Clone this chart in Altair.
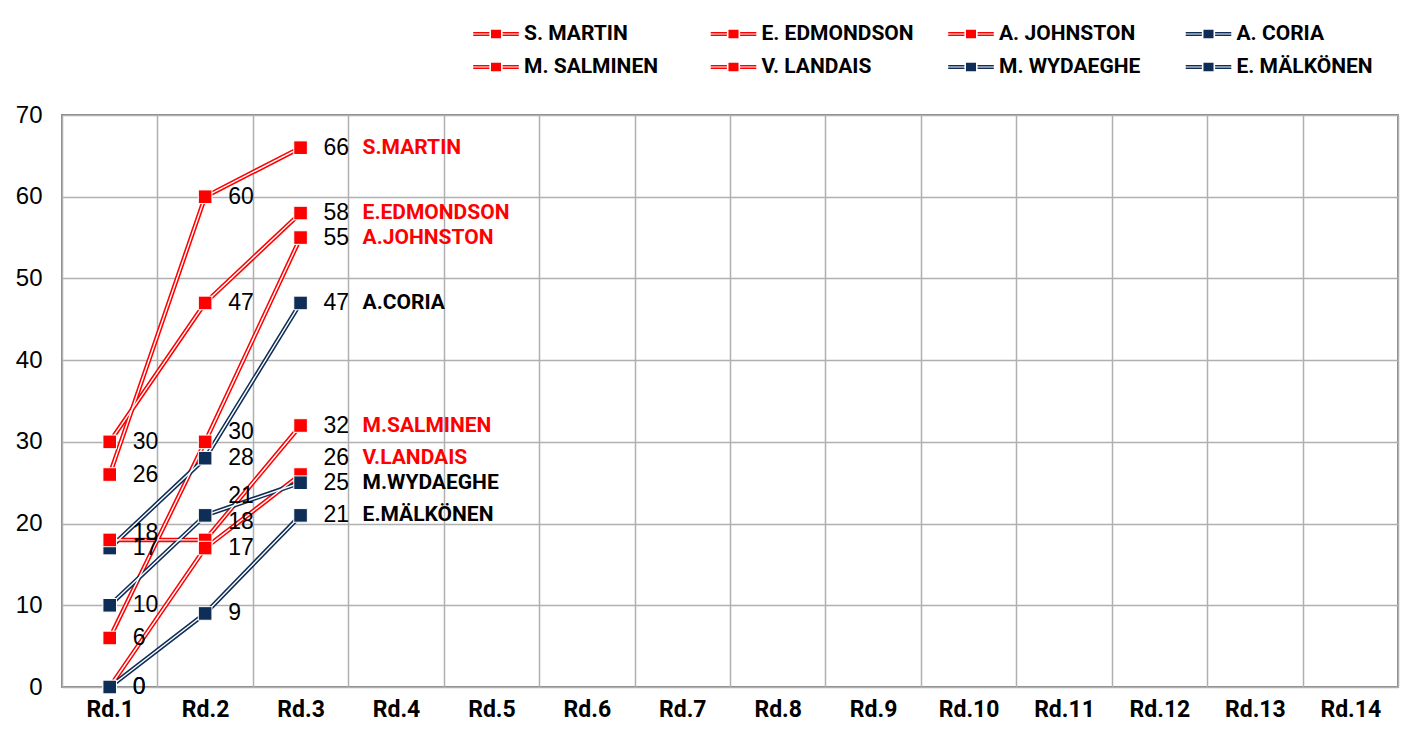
import altair as alt
import pandas as pd

rounds = ["Rd.1", "Rd.2", "Rd.3", "Rd.4", "Rd.5", "Rd.6", "Rd.7",
          "Rd.8", "Rd.9", "Rd.10", "Rd.11", "Rd.12", "Rd.13", "Rd.14"]

players = ["S. MARTIN", "E. EDMONDSON", "A. JOHNSTON", "A. CORIA",
           "M. SALMINEN", "V. LANDAIS", "M. WYDAEGHE", "E. MÄLKÖNEN"]
short_names = ["S.MARTIN", "E.EDMONDSON", "A.JOHNSTON", "A.CORIA",
               "M.SALMINEN", "V.LANDAIS", "M.WYDAEGHE", "E.MÄLKÖNEN"]

martin = [26, 60, 66]
edmondson = [30, 47, 58]
johnston = [6, 30, 55]
coria = [17, 28, 47]
salminen = [18, 18, 32]
landais = [0, 17, 26]
wydaeghe = [10, 21, 25]
malkonen = [0, 9, 21]

# label nudges (value units) to keep point labels apart
nudge_martin = [0, 0, 0]
nudge_edmondson = [0, 0, 0]
nudge_johnston = [0, 1.2, 0]
nudge_coria = [0, 0, 0]
nudge_salminen = [0.9, 2.2, 0]
nudge_landais = [0, 0, 2.0]
nudge_wydaeghe = [0, 2.4, 0]
nudge_malkonen = [0, 0, 0]

RED = "#ff0000"
NAVY = "#0f2e57"
line_colors = [RED, RED, RED, NAVY, RED, RED, NAVY, NAVY]
name_colors = [RED, RED, RED, "#000000", RED, RED, "#000000", "#000000"]

series = [martin, edmondson, johnston, coria, salminen, landais, wydaeghe, malkonen]
nudges = [nudge_martin, nudge_edmondson, nudge_johnston, nudge_coria,
          nudge_salminen, nudge_landais, nudge_wydaeghe, nudge_malkonen]

rows = []
for p, s, vals, nd, nc in zip(players, short_names, series, nudges, name_colors):
    for i, v in enumerate(vals):
        rows.append(dict(player=p, short=s, round=rounds[i], value=v,
                         label_y=v + nd[i], last=(i == len(vals) - 1),
                         namecolor=nc))
df = pd.DataFrame(rows)

NARROW = "Roboto, Liberation Sans Narrow, DejaVu Sans Condensed"
REG = "Liberation Sans, Arial, DejaVu Sans"

x_enc = alt.X("round:N",
              scale=alt.Scale(domain=rounds, paddingInner=0, paddingOuter=0),
              sort=rounds,
              axis=alt.Axis(title=None, tickBand="extent", grid=True, ticks=False,
                            domain=False, labelAngle=0, labelFont=NARROW,
                            labelFontSize=23, labelFontWeight="bold",
                            labelColor="#000000", labelPadding=11))
y_scale = alt.Scale(domain=[0, 70], nice=False)
y_enc = alt.Y("value:Q", scale=y_scale,
              axis=alt.Axis(title=None, values=[0, 10, 20, 30, 40, 50, 60, 70],
                            ticks=False, domain=False, grid=True,
                            labelFont=REG, labelFontSize=24, labelColor="#000000",
                            labelPadding=20))

color_scale = alt.Scale(domain=players, range=line_colors)

lx = [-0.36, -0.27, -0.18, -0.09, 0, 0.09, 0.18, 0.27, 0.36]
sym_path = ("M-1.9,-0.1H-0.55M-1.9,0.1H-0.55M0.55,-0.1H1.9M0.55,0.1H1.9"
            + "".join(f"M{v},-0.36V0.36" for v in lx))

legend = alt.Legend(title=None, orient="none", legendX=421, legendY=-94,
                    columns=4, direction="horizontal", symbolType=sym_path,
                    symbolSize=576, symbolStrokeWidth=1.4,
                    labelFont=NARROW, labelFontSize=21, labelFontWeight="bold",
                    labelColor="#000000", labelOffset=15, columnPadding=30.5,
                    rowPadding=10, gridAlign="all", labelLimit=300, padding=0)

base = alt.Chart(df)

line_col = base.mark_line(strokeWidth=4.5).encode(
    x=x_enc, y=y_enc,
    color=alt.Color("player:N", scale=color_scale, sort=players, legend=legend))

line_white = base.mark_line(strokeWidth=1.4, color="white").encode(
    x=x_enc, y=y_enc, detail="player:N")

points = base.mark_square(size=185, filled=True, opacity=1, stroke="white",
                          strokeWidth=1).encode(
    x=x_enc, y=y_enc,
    color=alt.Color("player:N", scale=color_scale, sort=players, legend=None))

value_text = base.mark_text(align="left", baseline="middle", dx=23,
                            font=REG, fontSize=23, color="#000000").encode(
    x=x_enc, y=alt.Y("label_y:Q", scale=y_scale), text="value:Q")

name_text = base.transform_filter("datum.last").mark_text(
    align="left", baseline="middle", dx=62, font=NARROW, fontSize=21,
    fontWeight="bold").encode(
    x=x_enc, y=alt.Y("label_y:Q", scale=y_scale), text="short:N",
    color=alt.Color("namecolor:N", scale=None))

chart = alt.layer(line_col, line_white, points, value_text, name_text).properties(
    width=1336, height=572,
    autosize=alt.AutoSizeParams(type="none"),
    padding={"left": 54, "top": 107, "right": 16, "bottom": 47},
    background="white",
).configure_view(stroke="#888888", strokeWidth=2).configure_axis(
    gridColor="#b0b0b0", gridWidth=1.5)

chart.save("out.html", embed_options={"renderer": "svg", "actions": False})
